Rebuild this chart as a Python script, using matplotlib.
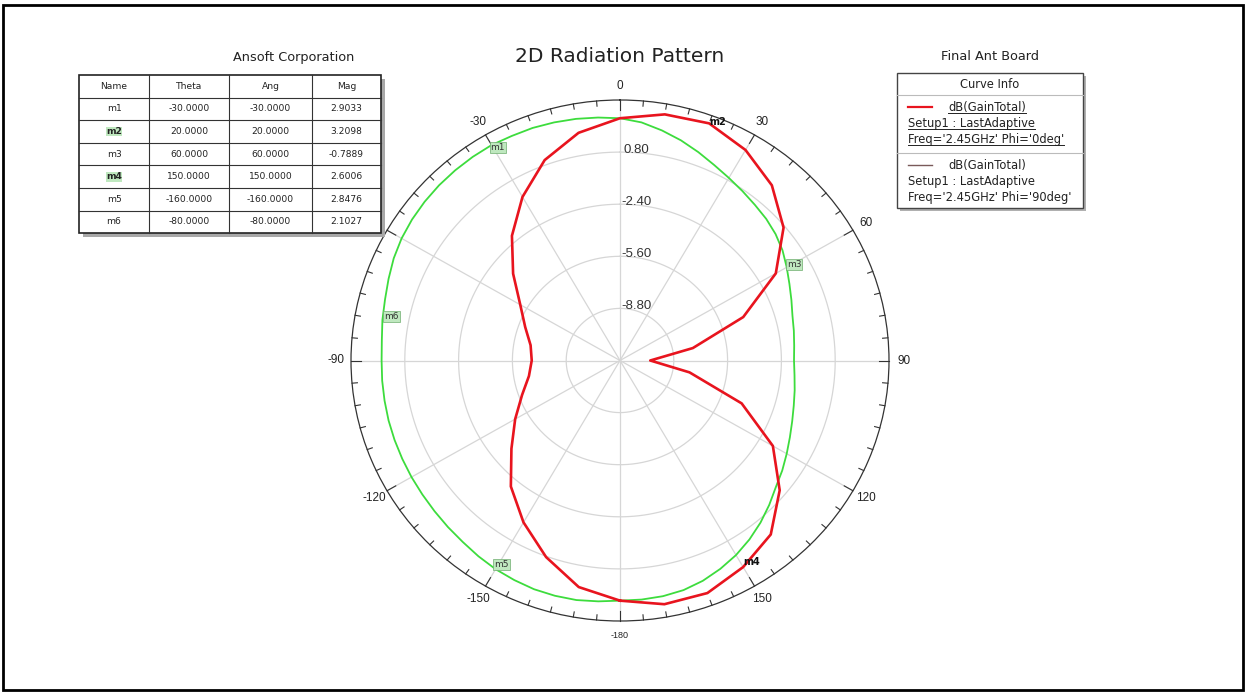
import numpy as np
import matplotlib
matplotlib.use('Agg')
import matplotlib.pyplot as plt
from matplotlib.patches import Rectangle

plt.rcParams['font.family'] = ['DejaVu Sans']
ARIAL = ['Liberation Sans', 'DejaVu Sans']

# Phi=0 cut, dB, every 10 deg
angles_phi0 = np.arange(-180, 181, 10)
gain_phi0 = [2.75, 2.13, 0.85, -0.52, -1.9, -3.57, -4.8, -5.8, -6.5, -6.75,
             -6.6, -6.0, -5.15, -3.7, -2.0, -0.4, 1.1, 2.2, 2.88,
             3.35, 3.5, 2.93, 2.05, 0.7, -1.3, -4.2, -7.6, -10.2, -7.8,
             -4.3, -1.5, 0.4, 1.95, 2.65, 3.2, 3.2, 2.75]

# Phi=90 cut, dB, every 5 deg
angles_phi90 = np.arange(-180, 181, 5)
gain_phi90 = [2.75, 2.85, 2.94, 2.96, 2.95, 2.88, 2.8, 2.68, 2.55, 2.47,
              2.4, 2.35, 2.32, 2.29, 2.27, 2.25, 2.22, 2.2, 2.18, 2.22,
              2.35, 2.47, 2.65, 2.85, 3.0, 3.1, 3.17, 3.22, 3.25, 3.27,
              3.28, 3.22, 3.2, 3.14, 3.07, 2.98, 2.88, 2.68, 2.35, 2.0,
              1.62, 1.25, 0.95, 0.7, 0.48, 0.3, 0.08, -0.2, -0.55, -0.88,
              -1.15, -1.38, -1.5, -1.6, -1.65, -1.58, -1.45, -1.3, -1.1, -0.85,
              -0.55, -0.22, 0.1, 0.55, 1.0, 1.42, 1.8, 2.12, 2.4, 2.6,
              2.7, 2.74, 2.75]

# marker table
marker_names = ['m1', 'm2', 'm3', 'm4', 'm5', 'm6']
marker_theta = [-30.0, 20.0, 60.0, 150.0, -160.0, -80.0]
marker_mag = [2.9033, 3.2098, -0.7889, 2.6006, 2.8476, 2.1027]

ring_values = [0.8, -2.4, -5.6, -8.8]
ring_labels = ['0.80', '-2.40', '-5.60', '-8.80']
ang_ticks = [0, 30, 60, 90, 120, 150, 180, -150, -120, -90, -60, -30]
ang_labels = ['0', '30', '60', '90', '120', '150', '-180', '-150', '-120', '-90', '-60', '-30']

rmin, rmax = -12.0, 4.0
W, H = 1246, 692
fig = plt.figure(figsize=(W / 100, H / 100), dpi=100)

# polar plot (slightly wider than tall, like the original)
cx, cy, a, b = 620, 360.5, 269, 260.5
ax = fig.add_axes([(cx - a) / W, (H - cy - b) / H, 2 * a / W, 2 * b / H], projection='polar')
ax.set_aspect('auto')
ax.set_theta_zero_location('N')
ax.set_theta_direction(-1)
ax.set_rlim(rmin, rmax)
ax.set_xticks([])
ax.set_yticks([])
ax.grid(False)
ax.spines['polar'].set_color('#333333')
ax.spines['polar'].set_linewidth(0.9)

grid_c = '#d6d6d6'
th = np.linspace(0, 2 * np.pi, 400)
for v in ring_values:
    ax.plot(th, np.full_like(th, v), color=grid_c, lw=0.9, zorder=1)
for d in range(0, 360, 30):
    ax.plot([np.radians(d)] * 2, [rmin, rmax], color=grid_c, lw=0.9, zorder=1)

# ticks on outer ring, pointing inward
for d in range(0, 360, 5):
    L = 0.6 if d % 30 == 0 else 0.32
    ax.plot([np.radians(d)] * 2, [rmax - L, rmax], color='#333333', lw=0.8, zorder=2, clip_on=False)

for v, lab in zip(ring_values, ring_labels):
    ax.annotate(lab, xy=(0, v), xytext=(16, 2), textcoords='offset pixels',
                ha='center', va='center', fontsize=9.5, color='#333333', family=ARIAL)

for d, lab in zip(ang_ticks, ang_labels):
    fs = 6.5 if lab == '-180' else 8.5
    ax.text(np.radians(d), rmax + 0.055 * (rmax - rmin), lab, ha='center', va='center',
            fontsize=fs, color='#222222', clip_on=False, family=ARIAL)

ax.plot(np.radians(angles_phi90), gain_phi90, color='#3ddc3d', lw=1.3, zorder=3)
ax.plot(np.radians(angles_phi0), gain_phi0, color='#e8141e', lw=1.9, zorder=4)

# marker labels
label_offsets = [(3, 3), (10, 6), (11, 5), (9, 4), (-33, 23), (5, 4)]
for name, t, m, off in zip(marker_names, marker_theta, marker_mag, label_offsets):
    if name in ('m2', 'm4'):
        ax.annotate(name, xy=(np.radians(t), m), xytext=off, textcoords='offset pixels',
                    ha='center', va='center', fontsize=7, fontweight='bold', color='#111111', zorder=6)
    else:
        ax.annotate(name, xy=(np.radians(t), m), xytext=off, textcoords='offset pixels',
                    ha='center', va='center', fontsize=6.5, color='#333333', zorder=6,
                    bbox=dict(boxstyle='square,pad=0.1', fc='#bfe8bf', ec='#6fae6f', lw=0.5))

fig.text(cx / W, 1 - 57 / H, '2D Radiation Pattern', ha='center', va='center', fontsize=14.5, color='#222222')

# overlay in pixel coordinates for table, legend and frame
ov = fig.add_axes([0, 0, 1, 1])
ov.set_xlim(0, W)
ov.set_ylim(H, 0)
ov.axis('off')

ov.add_patch(Rectangle((3, 5), 1240, 685, fill=False, ec='black', lw=2, clip_on=False))

# marker table
ov.text(294, 58, 'Ansoft Corporation', ha='center', va='center', fontsize=9.3, color='#222222')
xs = [79, 149, 229, 312, 381]
ys = [75 + 22.6 * i for i in range(8)]
ov.add_patch(Rectangle((xs[0] + 4, ys[0] + 4), xs[-1] - xs[0], ys[-1] - ys[0], fc='#a8a8a8', ec='none'))
ov.add_patch(Rectangle((xs[0], ys[0]), xs[-1] - xs[0], ys[-1] - ys[0], fc='white', ec='#222222', lw=1.2))
for x in xs[1:-1]:
    ov.plot([x, x], [ys[0], ys[-1]], color='#333333', lw=0.8)
for y in ys[1:-1]:
    ov.plot([xs[0], xs[-1]], [y, y], color='#333333', lw=0.8)
header = ['Name', 'Theta', 'Ang', 'Mag']
rows = [header] + [[n, f'{t:.4f}', f'{t:.4f}', f'{m:.4f}']
                   for n, t, m in zip(marker_names, marker_theta, marker_mag)]
for i, row in enumerate(rows):
    yc = (ys[i] + ys[i + 1]) / 2
    for j, cell in enumerate(row):
        xc = (xs[j] + xs[j + 1]) / 2
        kw = {}
        if i > 0 and j == 0 and cell in ('m2', 'm4'):
            kw = dict(fontweight='bold', bbox=dict(boxstyle='square,pad=0.05', fc='#bfe8bf', ec='none'))
        ov.text(xc, yc, cell, ha='center', va='center', fontsize=6.6, color='#222222', **kw)

# curve info legend
ov.text(990, 57, 'Final Ant Board', ha='center', va='center', fontsize=9.3, color='#222222')
lx0, lx1, ly0, ly1 = 897, 1083, 73, 208
ov.add_patch(Rectangle((lx0 + 3, ly0 + 3), lx1 - lx0, ly1 - ly0, fc='#b0b0b0', ec='none'))
ov.add_patch(Rectangle((lx0, ly0), lx1 - lx0, ly1 - ly0, fc='white', ec='#444444', lw=1))
ov.text(990, 85, 'Curve Info', ha='center', va='center', fontsize=8.3, color='#222222')
ov.plot([lx0, lx1], [95, 95], color='#bbbbbb', lw=0.8)
ov.plot([lx0, lx1], [153, 153], color='#bbbbbb', lw=0.8)
ov.plot([908, 932], [107, 107], color='#e8141e', lw=1.6)
ov.plot([908, 932], [165, 165], color='#7a5a5a', lw=1.0)
fs_leg = 8.3
under = []
under.append(ov.text(948, 107, 'dB(GainTotal)', ha='left', va='center', fontsize=fs_leg, color='#222222'))
under.append(ov.text(908, 123, 'Setup1 : LastAdaptive', ha='left', va='center', fontsize=fs_leg, color='#222222'))
under.append(ov.text(908, 139, "Freq='2.45GHz' Phi='0deg'", ha='left', va='center', fontsize=fs_leg, color='#222222'))
ov.text(948, 165, 'dB(GainTotal)', ha='left', va='center', fontsize=fs_leg, color='#222222')
ov.text(908, 181, 'Setup1 : LastAdaptive', ha='left', va='center', fontsize=fs_leg, color='#222222')
ov.text(908, 197, "Freq='2.45GHz' Phi='90deg'", ha='left', va='center', fontsize=fs_leg, color='#222222')

fig.canvas.draw()
inv = ov.transData.inverted()
for t in under:
    bb = t.get_window_extent()
    (x0, y0), (x1, y1) = inv.transform([[bb.x0, bb.y0], [bb.x1, bb.y1]])
    ov.plot([x0, x1], [max(y0, y1) - 0.5] * 2, color='#222222', lw=0.7)

fig.savefig('out.png', dpi=100)
